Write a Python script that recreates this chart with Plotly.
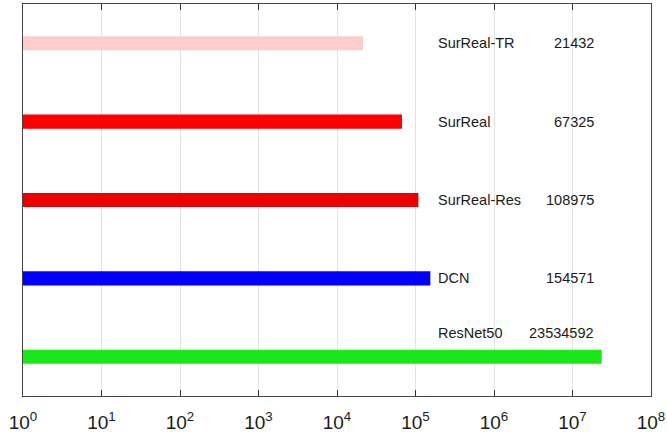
import plotly.graph_objects as go

names = ["SurReal-TR", "SurReal", "SurReal-Res", "DCN", "ResNet50"]
params = [21432, 67325, 108975, 154571, 23534592]
positions = [5, 4, 3, 2, 1]
colors = ["#FFCCCC", "#FF0000", "#EE0000", "#0000FF", "#1AE61A"]
label_offsets = [0, 0, 0, 0, 0.3]
tick_exponents = [0, 1, 2, 3, 4, 5, 6, 7, 8]

fig = go.Figure()
for n, v, p, c in zip(names, params, positions, colors):
    fig.add_trace(go.Bar(x=[v], y=[p], base=1, orientation="h", width=0.18,
                         marker=dict(color=c, line=dict(width=0)), showlegend=False))

for n, v, p, o in zip(names, params, positions, label_offsets):
    fig.add_annotation(x=0.658, xref="paper", y=p + o, yref="y", text=n,
                       showarrow=False, xanchor="left",
                       font=dict(size=14.5, color="#1a1a1a", family="Liberation Sans"))
    fig.add_annotation(x=0.912, xref="paper", y=p + o, yref="y", text=str(v),
                       showarrow=False, xanchor="right",
                       font=dict(size=14.5, color="#1a1a1a", family="Liberation Sans"))

fig.update_layout(
    width=667, height=438,
    margin=dict(l=23, r=16, t=4, b=42, autoexpand=False),
    plot_bgcolor="white", paper_bgcolor="white",
    barmode="overlay",
    font=dict(family="Liberation Sans", color="#1a1a1a"),
)
fig.update_xaxes(type="log", range=[0, 8],
                 tickmode="array",
                 tickvals=[10 ** e for e in tick_exponents],
                 ticktext=["10<sup>%d</sup>" % e for e in tick_exponents],
                 showgrid=True, gridcolor="#E3E3E3", gridwidth=1,
                 ticks="inside", ticklen=6, tickcolor="#333333",
                 showline=True, linecolor="#444444", linewidth=1, mirror="ticks",
                 tickfont=dict(size=19, color="#1a1a1a"), zeroline=False,
                 ticklabelstandoff=9, automargin=False)
fig.update_yaxes(range=[0.5, 5.5], showticklabels=False, showgrid=False,
                 ticks="", showline=True, linecolor="#444444", linewidth=1,
                 mirror=True, zeroline=False, automargin=False)

fig.write_html("out.html", config={"displayModeBar": False},
               post_script="document.body.style.margin='0';document.body.style.overflow='hidden';")
